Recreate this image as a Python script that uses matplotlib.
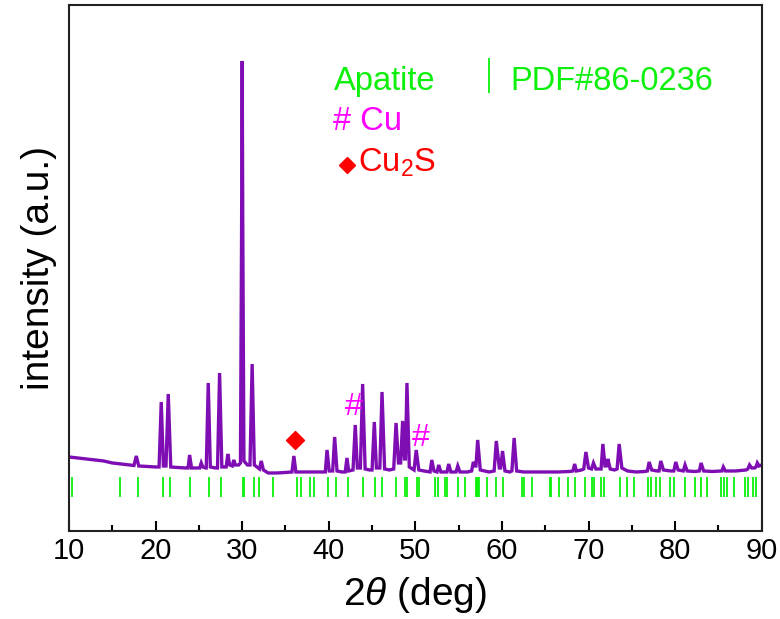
import matplotlib
matplotlib.use("Agg")
import matplotlib.pyplot as plt
from matplotlib.ticker import MultipleLocator

plt.rcParams['font.family'] = ['Liberation Sans', 'DejaVu Sans']
plt.rcParams['mathtext.fontset'] = 'custom'
plt.rcParams['mathtext.rm'] = 'Liberation Sans'
plt.rcParams['mathtext.it'] = 'Liberation Sans:italic'

# XRD pattern vertices (2theta in deg, intensity in a.u.)
two_theta = [
    10.0, 11.0, 12.0, 13.0, 14.0, 15.0, 16.0, 17.0,
    17.5, 17.77, 18.05, 19.0, 20.0,
    20.4, 20.65, 20.9, 21.2, 21.46, 21.75, 22.5, 23.5,
    23.75, 23.93, 24.15, 24.8, 25.1, 25.27, 25.45, 25.8,
    25.85, 26.08, 26.32, 26.9, 27.15, 27.39, 27.65, 28.0,
    28.15, 28.34, 28.55, 28.85, 29.03, 29.2, 29.6,
    29.8, 29.93, 30.0, 30.07, 30.2, 30.6,
    30.9, 31.15, 31.4, 32.0, 32.2, 32.45,
    33.0, 34.0, 35.0, 35.75, 35.97, 36.2, 37.0, 38.0, 39.0,
    39.6, 39.8, 40.05, 40.45, 40.68, 40.95, 41.5,
    41.9, 42.1, 42.3, 42.8, 43.06, 43.3, 43.65, 43.91, 44.2, 44.7,
    45.0, 45.26, 45.5, 45.9, 46.15, 46.45, 47.0,
    47.5, 47.77, 48.05, 48.3, 48.53, 48.75, 48.85, 49.03, 49.3,
    49.85, 50.1, 50.4, 51.0, 51.7, 51.9, 52.15, 52.5, 52.7, 52.95, 53.4,
    53.65, 53.85, 54.1, 54.7, 54.9, 55.15, 56.0,
    56.5, 56.7, 56.9, 57.0, 57.2, 57.5, 58.5,
    59.1, 59.35, 59.7, 59.85, 60.07, 60.35, 60.9,
    61.15, 61.41, 61.7, 62.5, 63.5, 65.0, 66.5, 67.8,
    68.2, 68.4, 68.6, 69.2, 69.45, 69.7, 70.0,
    70.35, 70.57, 70.85, 71.45, 71.66, 71.9, 72.05, 72.24, 72.5, 73.0,
    73.3, 73.54, 73.85, 74.5, 75.5, 76.5,
    76.8, 77.0, 77.3, 77.9, 78.15, 78.35, 78.65, 79.5,
    79.85, 80.08, 80.35, 80.95, 81.15, 81.4, 82.3,
    82.8, 83.0, 83.3, 84.3, 85.2, 85.4, 85.57, 85.8, 87.0, 88.2,
    88.4, 88.6, 88.85, 89.2, 89.35, 89.5, 89.7, 90.0,
]
intensity = [
    74, 73, 72, 71, 70, 68, 67, 66,
    65.5, 75, 65, 64.5, 64,
    64, 129, 65, 65, 137, 64, 63.5, 63,
    63, 76, 63, 63, 63, 68, 64, 63,
    63, 148, 64, 63, 63, 158, 64, 64,
    64, 77, 66, 65, 71, 66, 66,
    68, 300, 470, 300, 70, 66,
    66, 167, 66, 62, 70, 61,
    58, 58, 58.5, 59, 75, 59, 59, 59, 59,
    59, 81, 60, 60, 94, 60, 59,
    59, 73, 60, 61, 106, 63, 63, 147, 62, 61,
    61, 109, 63, 63, 139, 62, 61,
    62, 108, 68, 68, 110, 72, 72, 148, 64,
    61, 81, 61, 60, 59, 71, 60, 59, 66, 59, 59,
    59, 67, 59, 59, 65, 59, 59,
    60, 69, 65, 65, 91, 61, 59,
    60, 90, 63, 63, 80, 60, 59,
    60, 93, 60, 59, 59, 59, 59, 59.5,
    60, 67, 60, 61, 62, 79, 63,
    62, 68, 62, 62, 87, 65, 65, 72, 62, 61,
    62, 87, 63, 60, 59, 59.5,
    60, 69, 61, 60, 60, 70, 61, 60,
    60, 69, 61, 60, 66, 60, 59.5,
    60, 68, 60, 59.5, 60, 60, 64, 60, 60, 61,
    62, 66, 63, 63, 64, 68, 65, 66,
]

# Apatite reference lines, PDF#86-0236 (deg)
pdf_positions = [
    10.39, 15.85, 18.0, 20.85, 21.66, 23.97, 26.2, 27.6, 30.1,
    30.2, 31.4, 31.9, 33.6, 36.3, 36.8, 37.8, 38.3, 39.9, 40.8, 42.2,
    44.0, 45.3, 46.2, 47.8, 48.8, 49.0, 50.2,
    50.4, 52.3, 52.6, 53.4, 53.7, 54.9, 55.75, 57.0, 57.1, 57.2, 57.3,
    58.3, 59.3, 60.1, 62.3, 62.6, 63.45, 65.5, 65.7, 66.6, 67.6, 68.4,
    69.6, 70.4, 70.65, 71.5, 71.75, 73.6, 74.45, 75.25, 76.9, 77.2,
    77.8, 78.2, 79.4, 79.9, 81.1, 82.25, 83.0, 83.7, 85.3, 85.7, 85.95,
    86.8, 88.1, 88.45, 89.05, 89.3,
]

cu_peaks = [42.85, 50.58]
cu_marks_y = [124, 93]
cu2s_peak = [36.08]
cu2s_mark_y = [90.7]

x_ticks = [10, 20, 30, 40, 50, 60, 70, 80, 90]

PURPLE = '#7E0EB4'
GREEN = '#0CF00C'
MAGENTA = '#FF00FF'
RED = '#FF0000'

fig = plt.figure(figsize=(7.8, 6.19), dpi=100)
ax = fig.add_axes([0.0885, 0.1422, 0.888, 0.8498])

ax.plot(two_theta, intensity, color=PURPLE, lw=2.4, solid_joinstyle='miter')
ax.vlines(pdf_positions, 34, 54, color=GREEN, lw=1.3)

for x, y in zip(cu_peaks, cu_marks_y):
    ax.text(x, y, '#', color=MAGENTA, fontsize=23, ha='center', va='center')
ax.plot(cu2s_peak, cu2s_mark_y, marker='D', ms=9, color=RED, ls='none')

# legend-like labels
ax.text(40.54, 441, 'Apatite', color=GREEN, fontsize=23.5, va='baseline')
ax.vlines([58.54], 438, 473, color=GREEN, lw=1.3)
ax.text(60.96, 441, 'PDF#86-0236', color=GREEN, fontsize=23.5, va='baseline')
ax.text(40.54, 401, '# Cu', color=MAGENTA, fontsize=23.5, va='baseline')
ax.plot([42.12], [366], marker='D', ms=8.5, color=RED, ls='none')
ax.text(43.43, 359.3, 'Cu$_2$S', color=RED, fontsize=23.5, va='baseline')

ax.set_xlim(10, 90)
ax.set_ylim(0, 526)
ax.set_xticks(x_ticks)
ax.xaxis.set_minor_locator(MultipleLocator(5))
ax.tick_params(axis='x', which='major', direction='in', length=7, width=1.5,
               labelsize=21, pad=4.5, top=False)
ax.tick_params(axis='x', which='minor', direction='in', length=4, width=1.5, top=False)
ax.set_yticks([])
for s in ax.spines.values():
    s.set_linewidth(1.5)
    s.set_color('#222222')

ax.set_xlabel(r'2$\theta$ (deg)', fontsize=28, labelpad=7)
ax.set_ylabel('intensity (a.u.)', fontsize=28, labelpad=9)

fig.savefig('out.png', dpi=100)
